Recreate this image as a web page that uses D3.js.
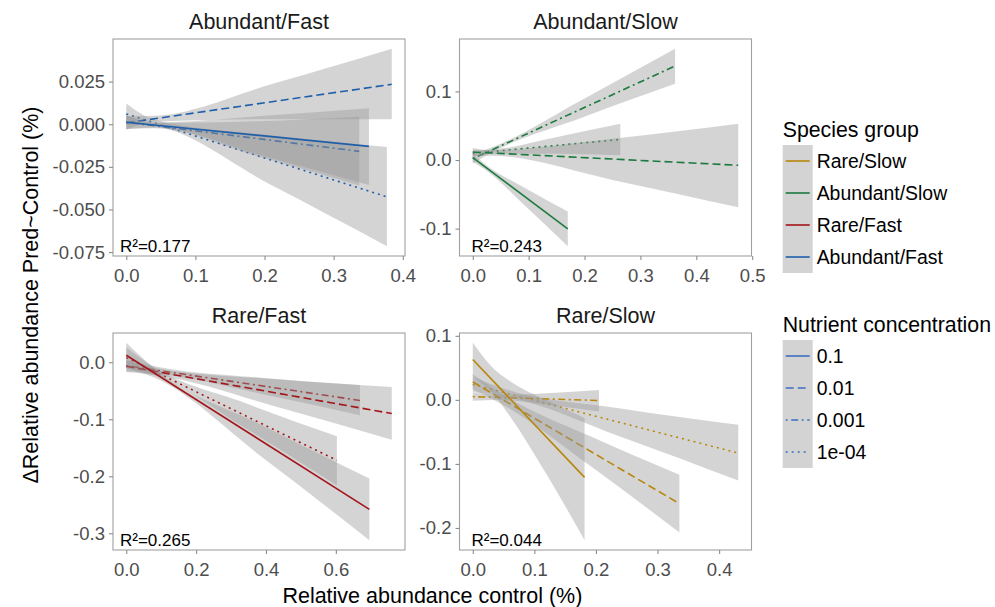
<!DOCTYPE html>
<html>
<head>
<meta charset="utf-8">
<script src="https://cdn.jsdelivr.net/npm/d3@7"></script>
<style>
  body { margin: 0; background: #fff; }
  svg { display: block; }
  text { font-family: "Liberation Sans", Arial, Helvetica, sans-serif; }
</style>
</head>
<body>
<svg id="chart" width="995" height="607"></svg>
<script>
// ---- data -----------------------------------------------------------------
const panelTitles = ["Abundant/Fast", "Abundant/Slow", "Rare/Fast", "Rare/Slow"];
const speciesGroups = ["Rare/Slow", "Abundant/Slow", "Rare/Fast", "Abundant/Fast"];
const nutrientLevels = ["0.1", "0.01", "0.001", "1e-04"];
// groups are layered from the lowest to the highest concentration
const drawOrder = ["1e-04", "0.001", "0.01", "0.1"];
const rSquared = ["0.177", "0.243", "0.265", "0.044"];

const xTickValues = [
  [0, 0.1, 0.2, 0.3, 0.4],
  [0, 0.1, 0.2, 0.3, 0.4, 0.5],
  [0, 0.2, 0.4, 0.6],
  [0, 0.1, 0.2, 0.3, 0.4]
];
const yTickValues = [
  [0.025, 0, -0.025, -0.05, -0.075],
  [0.1, 0, -0.1],
  [0, -0.1, -0.2, -0.3],
  [0.1, 0, -0.1, -0.2]
];
const yTickDigits = [3, 1, 1, 1];

// fitted regression lines: [x start, x end], [y start, y end], one per nutrient level
const fitsAbundantFast = [
  { level: "0.1",   x: [0, 0.351], y: [0.0012, -0.0130] },
  { level: "0.01",  x: [0, 0.384], y: [0.0008, 0.0234] },
  { level: "0.001", x: [0, 0.337], y: [0.0012, -0.0159] },
  { level: "1e-04", x: [0, 0.377], y: [0.0060, -0.0426] }
];
const fitsAbundantSlow = [
  { level: "0.1",   x: [0, 0.170], y: [0.0035, -0.1004] },
  { level: "0.01",  x: [0, 0.475], y: [0.0116, -0.0077] },
  { level: "0.001", x: [0, 0.362], y: [0.0020, 0.1370] },
  { level: "1e-04", x: [0, 0.264], y: [0.0097, 0.0300] }
];
const fitsRareFast = [
  { level: "0.1",   x: [0, 0.696], y: [0.0122, -0.258] },
  { level: "0.01",  x: [0, 0.760], y: [-0.007, -0.090] },
  { level: "0.001", x: [0, 0.669], y: [-0.006, -0.067] },
  { level: "1e-04", x: [0, 0.603], y: [0.008, -0.172] }
];
const fitsRareSlow = [
  { level: "0.1",   x: [0, 0.1815], y: [0.063, -0.121] },
  { level: "0.01",  x: [0, 0.3355], y: [0.028, -0.162] },
  { level: "0.001", x: [0, 0.205],  y: [0.005, -0.001] },
  { level: "1e-04", x: [0, 0.431],  y: [0.024, -0.083] }
];

// 95% confidence bands: lower / upper bound at several x positions
const bandsAbundantFast = [
  { level: "0.1",   x: [0, 0.04, 0.195, 0.351], lo: [-0.0028, -0.0019, -0.0182, -0.0357], hi: [0.0052, 0.0011, 0.0048, 0.0093] },
  { level: "0.01",  x: [0, 0.04, 0.212, 0.384], lo: [-0.0032, 0.0014, 0.0029, 0.0029],   hi: [0.0048, 0.0050, 0.0237, 0.0442] },
  { level: "0.001", x: [0, 0.04, 0.189, 0.337], lo: [-0.0028, -0.0023, -0.0185, -0.0360], hi: [0.0052, 0.0007, 0.0017, 0.0044] },
  { level: "1e-04", x: [0, 0.04, 0.209, 0.377], lo: [-0.0002, -0.0012, -0.0355, -0.0715], hi: [0.0122, 0.0028, -0.0065, -0.0134] }
];
const bandsAbundantSlow = [
  { level: "0.1",   x: [0, 0.02, 0.095, 0.170], lo: [-0.0025, -0.0127, -0.0676, -0.1255], hi: [0.0095, -0.0047, -0.0416, -0.0750] },
  { level: "0.01",  x: [0, 0.03, 0.25, 0.475],  lo: [0.0056, 0.0064, -0.029, -0.069],     hi: [0.0176, 0.0144, 0.031, 0.0527] },
  { level: "0.001", x: [0, 0.03, 0.196, 0.362], lo: [-0.005, 0.0092, 0.062, 0.111],       hi: [0.009, 0.0172, 0.088, 0.162] },
  { level: "1e-04", x: [0, 0.03, 0.147, 0.264], lo: [0.005, 0.009, 0.009, 0.0068],        hi: [0.0145, 0.015, 0.033, 0.0527] }
];
const bandsRareFast = [
  { level: "0.1",   x: [0, 0.08, 0.39, 0.696], lo: [-0.010, -0.0269, -0.167, -0.312], hi: [0.034, -0.0109, -0.111, -0.204] },
  { level: "0.01",  x: [0, 0.1, 0.43, 0.76],   lo: [-0.017, -0.0239, -0.078, -0.136], hi: [0.003, -0.0119, -0.030, -0.0435] },
  { level: "0.001", x: [0, 0.1, 0.385, 0.669], lo: [-0.016, -0.0211, -0.0551, -0.093], hi: [0.004, -0.0091, -0.0271, -0.040] },
  { level: "1e-04", x: [0, 0.08, 0.34, 0.603], lo: [-0.010, -0.0229, -0.1155, -0.216], hi: [0.026, -0.0089, -0.0715, -0.130] }
];
const bandsRareSlow = [
  { level: "0.1",   x: [0, 0.03, 0.06, 0.12, 0.1815], lo: [0.037, 0.0126, -0.0251, -0.1167, -0.219], hi: [0.089, 0.0526, 0.0295, -0.0007, -0.0285] },
  { level: "0.01",  x: [0, 0.05, 0.19, 0.3355],       lo: [0.016, -0.0083, -0.1026, -0.207],        hi: [0.040, 0.0077, -0.0566, -0.117] },
  { level: "0.001", x: [0, 0.04, 0.12, 0.205],        lo: [-0.0015, -0.0002, -0.0075, -0.018],      hi: [0.0115, 0.0078, 0.0105, 0.0156] },
  { level: "1e-04", x: [0, 0.05, 0.24, 0.431],        lo: [0.012, 0.0056, -0.0576, -0.126],         hi: [0.036, 0.0176, -0.0136, -0.039] }
];

const panelFits = [fitsAbundantFast, fitsAbundantSlow, fitsRareFast, fitsRareSlow];
const panelBands = [bandsAbundantFast, bandsAbundantSlow, bandsRareFast, bandsRareSlow];

// ---- styles ---------------------------------------------------------------
const groupColor = {
  "Rare/Slow": "#B8860B",
  "Abundant/Slow": "#1B7A3D",
  "Rare/Fast": "#A3151B",
  "Abundant/Fast": "#1F5FAA"
};
const levelDash = { "0.1": null, "0.01": "8,4", "0.001": "2,3.5,7,3.5", "1e-04": "2,4" };
const nutrientKeyColor = "#3D6FC2";
const bandFill = "#999999", bandOpacity = 0.42;
const frameColor = "#A0A0A0", tickColor = "#8C8C8C", tickTextColor = "#4D4D4D";

const panelW = 292, panelH = 217;
const colX = [113, 459.5], rowY = [39, 333];
const r2Offset = [7, 12];

const fmtLocale = d3.formatLocale({ decimal: ".", thousands: ",", grouping: [3], currency: ["", ""], minus: "-" });

const svg = d3.select("#chart");
svg.append("rect").attr("width", 995).attr("height", 607).attr("fill", "#fff");

panelTitles.forEach((title, i) => {
  const col = i % 2, row = Math.floor(i / 2);
  const fits = panelFits[i], bands = panelBands[i];
  const color = groupColor[title];

  // free scales with 5% padding on each side
  const xMax = d3.max(fits, f => f.x[1]), xMin = d3.min(fits, f => f.x[0]);
  const xr = xMax - xMin;
  const yLo = d3.min(bands, b => d3.min(b.lo)), yHi = d3.max(bands, b => d3.max(b.hi));
  const yr = yHi - yLo;
  const x = d3.scaleLinear().domain([xMin - 0.05 * xr, xMax + 0.05 * xr]).range([0, panelW]);
  const y = d3.scaleLinear().domain([yLo - 0.05 * yr, yHi + 0.05 * yr]).range([panelH, 0]);

  const g = svg.append("g").attr("transform", `translate(${colX[col]},${rowY[row]})`);

  const area = d3.area()
    .x(d => x(d[0])).y0(d => y(d[1])).y1(d => y(d[2]))
    .curve(d3.curveMonotoneX);
  const line = d3.line().x(d => x(d[0])).y(d => y(d[1]));

  drawOrder.forEach(level => {
    const b = bands.find(d => d.level === level);
    const f = fits.find(d => d.level === level);
    const pts = b.x.map((xv, k) => [xv, b.lo[k], b.hi[k]]);
    g.append("path").attr("d", area(pts))
      .attr("fill", bandFill).attr("fill-opacity", bandOpacity);
    g.append("path").attr("d", line([[f.x[0], f.y[0]], [f.x[1], f.y[1]]]))
      .attr("fill", "none").attr("stroke", color).attr("stroke-width", 1.6)
      .attr("stroke-dasharray", levelDash[level]);
  });

  // frame
  g.append("rect").attr("x", 0).attr("y", 0).attr("width", panelW).attr("height", panelH)
    .attr("fill", "none").attr("stroke", frameColor).attr("stroke-width", 1.1);

  // axes
  const xAxis = g.append("g").attr("transform", `translate(0,${panelH})`)
    .call(d3.axisBottom(x).tickValues(xTickValues[i]).tickSize(4).tickPadding(9)
      .tickFormat(fmtLocale.format(".1f")));
  const yAxis = g.append("g")
    .call(d3.axisLeft(y).tickValues(yTickValues[i]).tickSize(4).tickPadding(4)
      .tickFormat(fmtLocale.format("." + yTickDigits[i] + "f")));
  [xAxis, yAxis].forEach(a => {
    a.select(".domain").remove();
    a.selectAll(".tick line").attr("stroke", tickColor).attr("stroke-width", 1.1);
    a.selectAll(".tick text").attr("fill", tickTextColor)
      .style("font-size", "18.5px").style("font-family", '"Liberation Sans", Arial, sans-serif');
  });

  // facet title
  g.append("text").attr("x", panelW / 2).attr("y", -10.5).attr("text-anchor", "middle")
    .style("font-size", "21.5px").attr("fill", "#1a1a1a").text(title);

  // R² annotation
  g.append("text").attr("x", r2Offset[col]).attr("y", panelH - 4)
    .style("font-size", "17px").attr("fill", "#000").text("R²=" + rSquared[i]);
});

// axis titles
svg.append("text").attr("transform", "translate(31,295) rotate(-90)")
  .attr("text-anchor", "middle").attr("dominant-baseline", "central")
  .style("font-size", "21.5px").attr("fill", "#000")
  .text("ΔRelative abundance Pred~Control (%)");
svg.append("text").attr("x", 432.4).attr("y", 603).attr("text-anchor", "middle")
  .style("font-size", "21.5px").attr("fill", "#000")
  .text("Relative abundance control (%)");

// legends
const legendX = 782.7, keyW = 30, keyH = 32;
function legend(title, titleY, keyTop, items, strokeFor, dashFor) {
  const lg = svg.append("g");
  lg.append("text").attr("x", legendX).attr("y", titleY)
    .style("font-size", "21.3px").attr("fill", "#000").text(title);
  items.forEach((item, k) => {
    const top = keyTop + k * keyH;
    lg.append("rect").attr("x", legendX).attr("y", top).attr("width", keyW).attr("height", keyH)
      .attr("fill", "#D3D3D3");
    lg.append("line").attr("x1", legendX + 3).attr("x2", legendX + keyW - 3)
      .attr("y1", top + keyH / 2).attr("y2", top + keyH / 2)
      .attr("stroke", strokeFor(item)).attr("stroke-width", 1.6)
      .attr("stroke-dasharray", dashFor(item));
    lg.append("text").attr("x", legendX + keyW + 4).attr("y", top + keyH / 2)
      .attr("dy", "0.36em").style("font-size", "19.4px").attr("fill", "#000").text(item);
  });
}
legend("Species group", 137, 145, speciesGroups, d => groupColor[d], () => null);
legend("Nutrient concentration", 331.5, 340, nutrientLevels, () => nutrientKeyColor, d => levelDash[d]);
</script>
</body>
</html>
